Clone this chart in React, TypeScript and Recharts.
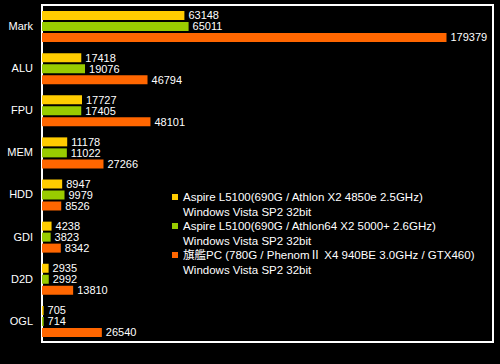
import { BarChart, Bar, XAxis, YAxis, Legend, LabelList, ReferenceArea } from "recharts";

const categories = ["Mark", "ALU", "FPU", "MEM", "HDD", "GDI", "D2D", "OGL"];
const aspire4850 = [63148, 17418, 17727, 11178, 8947, 4238, 2935, 705];
const aspire5000 = [65011, 19076, 17405, 11022, 9979, 3823, 2992, 714];
const flagshipPC = [179379, 46794, 48101, 27266, 8526, 8342, 13810, 26540];

const seriesNames = [
  "Aspire L5100(690G / Athlon X2 4850e 2.5GHz)\nWindows Vista SP2 32bit",
  "Aspire L5100(690G / Athlon64 X2 5000+ 2.6GHz)\nWindows Vista SP2 32bit",
  "旗艦PC (780G / PhenomⅡ X4 940BE 3.0GHz / GTX460)\nWindows Vista SP2 32bit",
];
const seriesKeys = ["a", "b", "c"];
const colors = ["#ffcc00", "#99cc00", "#ff6600"];

const data = categories.map((name, i) => ({
  name,
  a: aspire4850[i],
  b: aspire5000[i],
  c: flagshipPC[i],
}));

const FONT = "'Liberation Sans', Arial, 'Noto Sans CJK JP', sans-serif";

interface LegendItem { value?: string; color?: string }

function LegendBox({ payload }: { payload?: LegendItem[] }) {
  if (!payload) return null;
  return (
    <div style={{ fontFamily: FONT, fontSize: 11.5, color: "#fff", lineHeight: "14.5px" }}>
      {payload.map((p, i) => {
        const lines = (p.value ?? "").split("\n");
        return (
          <div key={i} style={{ position: "relative", paddingLeft: 11, whiteSpace: "nowrap" }}>
            <span
              style={{
                position: "absolute",
                left: 0,
                top: 4,
                width: 6,
                height: 6,
                background: p.color,
              }}
            />
            {lines.map((l, j) => (
              <div key={j}>{l}</div>
            ))}
          </div>
        );
      })}
    </div>
  );
}

export default function App() {
  return (
    <div style={{ position: "fixed", left: 0, top: 0, width: 500, height: 364, background: "#000" }}>
      <BarChart
        width={500}
        height={364}
        data={data}
        layout="vertical"
        margin={{ top: 5, right: 7, bottom: 22, left: 0 }}
        barSize={9}
        barGap={2}
      >
        <XAxis type="number" domain={[0, 200000]} tick={false} height={0} axisLine={false} tickLine={false} />
        <YAxis
          type="category"
          dataKey="name"
          width={42}
          tickSize={0}
          tickMargin={9}
          axisLine={false}
          tickLine={false}
          tick={{ fill: "#fff", fontSize: 11, fontFamily: FONT }}
        />
        <ReferenceArea
          x1={0}
          x2={200000}
          y1={categories[0]}
          y2={categories[categories.length - 1]}
          fill="none"
          stroke="#fff"
          strokeWidth={1.5}
          shapeRendering="crispEdges"
          ifOverflow="visible"
        />
        <Legend
          layout="vertical"
          align="center"
          verticalAlign="middle"
          content={<LegendBox />}
          wrapperStyle={{ left: 172, top: 190, width: 320 }}
        />
        {seriesKeys.map((k, i) => (
          <Bar key={k} dataKey={k} name={seriesNames[i]} fill={colors[i]} isAnimationActive={false}>
            <LabelList dataKey={k} position="right" offset={4} fill="#fff" fontSize={11} fontFamily={FONT} />
          </Bar>
        ))}
      </BarChart>
    </div>
  );
}
